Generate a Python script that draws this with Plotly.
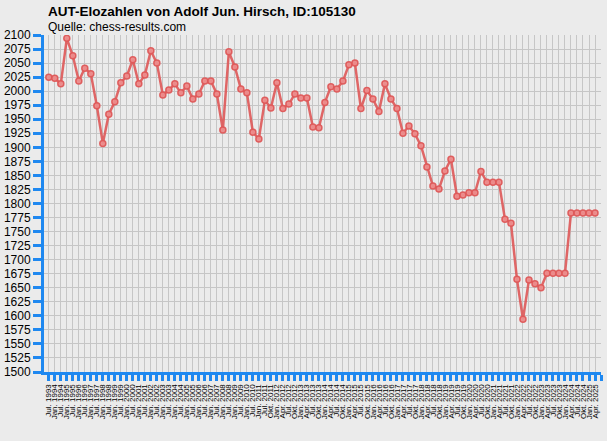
import plotly.graph_objects as go

title_text = "AUT-Elozahlen von Adolf Jun. Hirsch, ID:105130"
source_text = "Quelle: chess-results.com"

labels = [
    "Jul. 1993",
    "Jan. 1994", "Jul. 1994", "Jan. 1995", "Jul. 1995", "Jan. 1996", "Jul. 1996",
    "Jan. 1997", "Jul. 1997", "Jan. 1998", "Jul. 1998", "Jan. 1999", "Jul. 1999",
    "Jan. 2000", "Jul. 2000", "Jan. 2001", "Jul. 2001", "Jan. 2002", "Jul. 2002",
    "Jan. 2003", "Jul. 2003", "Jan. 2004", "Jul. 2004", "Jan. 2005", "Jul. 2005",
    "Jan. 2006", "Jul. 2006", "Jan. 2007", "Jul. 2007", "Jan. 2008", "Jul. 2008",
    "Jan. 2009", "Jul. 2009", "Jan. 2010", "Jul. 2010", "Jan. 2011", "Jul. 2011",
    "Okt. 2011",
    "Jan. 2012", "Apr. 2012", "Jul. 2012", "Okt. 2012",
    "Jan. 2013", "Apr. 2013", "Jul. 2013", "Okt. 2013",
    "Jan. 2014", "Apr. 2014", "Jul. 2014", "Okt. 2014",
    "Jan. 2015", "Apr. 2015", "Jul. 2015", "Okt. 2015",
    "Jan. 2016", "Apr. 2016", "Jul. 2016", "Okt. 2016",
    "Jan. 2017", "Apr. 2017", "Jul. 2017", "Okt. 2017",
    "Jan. 2018", "Apr. 2018", "Jul. 2018", "Okt. 2018",
    "Jan. 2019", "Apr. 2019", "Jul. 2019", "Okt. 2019",
    "Jan. 2020", "Apr. 2020", "Jul. 2020", "Okt. 2020",
    "Jan. 2021", "Apr. 2021", "Jul. 2021", "Okt. 2021",
    "Jan. 2022", "Apr. 2022", "Jul. 2022", "Okt. 2022",
    "Jan. 2023", "Apr. 2023", "Jul. 2023", "Okt. 2023",
    "Jan. 2024", "Apr. 2024", "Jul. 2024", "Okt. 2024",
    "Jan. 2025", "Apr. 2025",
]

elo = [
    2025, 2023, 2013, 2094, 2063, 2018, 2041, 2031, 1974, 1907,
    1959, 1981, 2015, 2027, 2056, 2013, 2029, 2072, 2050, 1993,
    2002, 2013, 1997, 2009, 1986, 1995, 2018, 2018, 1995, 1931,
    2070, 2043, 2004, 1997, 1927, 1915, 1984, 1970, 2015, 1969,
    1977, 1995, 1988, 1988, 1936, 1935, 1980, 2008, 2004, 2018,
    2047, 2050, 1969, 2001, 1986, 1964, 2013, 1986, 1969, 1925,
    1938, 1924, 1903, 1865, 1831, 1826, 1858, 1879, 1813, 1815,
    1819, 1819, 1857, 1838, 1838, 1838, 1772, 1765, 1665, 1594,
    1664, 1657, 1650, 1676, 1676, 1676, 1676, 1783, 1783, 1783,
    1783, 1783,
]

y_ticks = list(range(1500, 2101, 25))

x_idx = list(range(len(elo)))

fig = go.Figure()
fig.add_trace(go.Scatter(
    x=x_idx, y=elo, mode="lines+markers",
    line=dict(color="rgba(222,88,88,0.9)", width=2.5),
    marker=dict(size=6, color="rgba(236,140,140,0.95)",
                line=dict(color="rgba(222,88,88,0.95)", width=1.5)),
    hoverinfo="skip", showlegend=False,
))

bg = "#ebebeb"
plot_h = 441 - 35 - 69
fig.update_layout(
    width=607, height=441,
    margin=dict(l=44, r=6, t=35, b=69, autoexpand=False),
    paper_bgcolor=bg, plot_bgcolor=bg,
    font=dict(family="Liberation Sans, Arial, sans-serif", color="#000000"),
    annotations=[
        dict(text="<b>" + title_text + "</b>", xref="paper", yref="paper",
             x=0, xshift=2, xanchor="left",
             y=1 + (35 - 11.5) / plot_h, yanchor="middle", showarrow=False,
             font=dict(size=13.5, color="#000000")),
        dict(text=source_text, xref="paper", yref="paper",
             x=0, xshift=2, xanchor="left",
             y=1 + (35 - 27) / plot_h, yanchor="middle", showarrow=False,
             font=dict(size=12, color="#000000")),
    ],
)
fig.update_xaxes(
    range=[-0.8, 92], tickmode="array",
    tickvals=x_idx + [92], ticktext=labels + [""],
    tickangle=-90, tickfont=dict(size=8, color="#000000"),
    showgrid=True, gridcolor="#c6c6c6", gridwidth=1,
    showline=True, linecolor="#1e88f0", linewidth=3,
    ticks="outside", ticklen=6, tickwidth=2.5, tickcolor="#1e88f0",
    zeroline=False, fixedrange=True, automargin=False,
)
fig.update_yaxes(
    range=[1500, 2100], tickmode="array", tickvals=y_ticks,
    ticktext=[str(v) for v in y_ticks],
    tickfont=dict(size=12, color="#000000"),
    showgrid=True, gridcolor="#c6c6c6", gridwidth=1,
    showline=True, linecolor="#1e88f0", linewidth=3,
    ticks="outside", ticklen=8, tickwidth=3, tickcolor="#1e88f0",
    zeroline=False, fixedrange=True, automargin=False,
)

fig.write_html(
    "out.html",
    config={"displayModeBar": False},
    post_script="document.body.style.margin='0';document.body.style.background='#ebebeb';",
)
